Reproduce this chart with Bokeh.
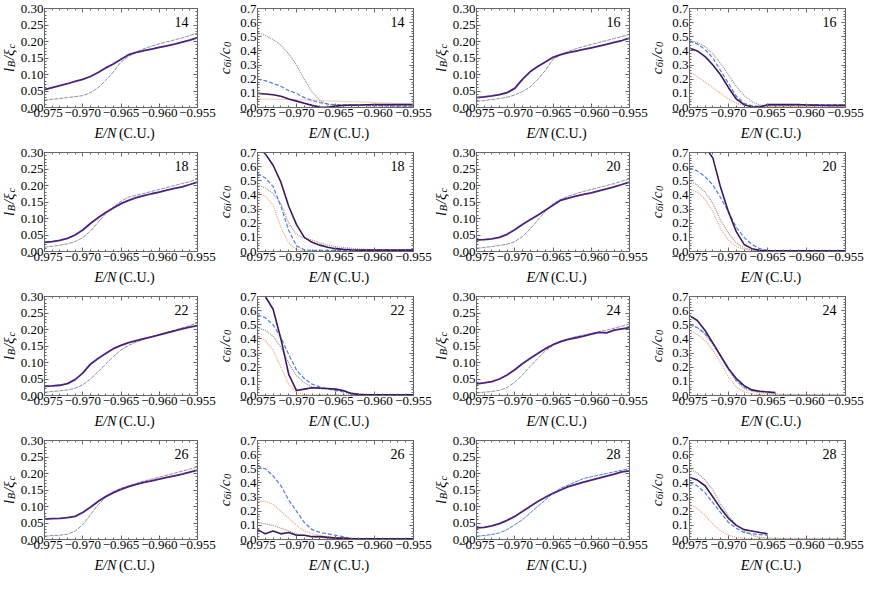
import math
from bokeh.plotting import figure
from bokeh.layouts import row, column
from bokeh.models import Range1d, FixedTicker, LinearAxis, Label, CustomJSTickFormatter
from bokeh.embed import file_html
from bokeh.resources import INLINE

nan = float("nan")

# ---------------- data ----------------
E = [-0.975, -0.974, -0.973, -0.972, -0.971, -0.970, -0.969, -0.968, -0.967, -0.966, -0.965,
     -0.964, -0.963, -0.962, -0.961, -0.960, -0.959, -0.958, -0.957, -0.956, -0.955]

X_TICKS = [-0.975, -0.970, -0.965, -0.960, -0.955]
IB_TICKS = [0.0, 0.05, 0.10, 0.15, 0.20, 0.25, 0.30]
C_TICKS = [0.0, 0.1, 0.2, 0.3, 0.4, 0.5, 0.6, 0.7]
PANEL_N = [14, 16, 18, 20, 22, 24, 26, 28]

# l_B / xi_c panels: solid (purple) and dashed reference
IB14_solid = [.054, .060, .066, .072, .079, .085, .094, .106, .120, .132, .146, .160, .167, .172, .177, .182, .187, .192, .198, .204, .212]
IB14_dash = [.022, .025, .027, .030, .033, .036, .045, .060, .082, .108, .138, .155, .168, .178, .186, .193, .199, .205, .211, .218, .226]
IB16_solid = [.030, .032, .035, .039, .045, .058, .085, .108, .124, .138, .152, .160, .166, .171, .176, .181, .186, .191, .197, .203, .210]
IB16_dash = [.018, .021, .024, .027, .031, .038, .048, .062, .085, .112, .146, .160, .170, .178, .185, .191, .197, .203, .209, .215, .222]
IB18_solid = [.028, .030, .034, .040, .050, .065, .085, .102, .118, .132, .145, .155, .163, .169, .175, .180, .186, .191, .196, .203, .210]
IB18_dash = [.013, .016, .019, .023, .030, .042, .062, .088, .115, .135, .152, .165, .170, .176, .182, .188, .194, .200, .206, .212, .220]
IB20_solid = [.035, .036, .038, .043, .052, .066, .082, .096, .110, .125, .140, .155, .162, .168, .173, .178, .184, .190, .196, .203, .210]
IB20_dash = [.010, .012, .015, .018, .022, .030, .045, .068, .095, .122, .145, .158, .168, .175, .182, .188, .194, .200, .206, .213, .220]
IB22_solid = [.028, .029, .031, .036, .048, .068, .095, .112, .127, .142, .152, .160, .166, .172, .178, .184, .190, .196, .202, .207, .212]
IB22_dash = [.010, .012, .014, .017, .022, .032, .050, .072, .095, .118, .138, .152, .162, .170, .178, .185, .192, .198, .205, .212, .220]
IB24_solid = [.035, .038, .042, .050, .062, .078, .096, .112, .127, .142, .154, .163, .170, .175, .180, .186, .191, .190, .198, .202, .206]
IB24_dash = [.008, .010, .012, .016, .024, .040, .062, .088, .112, .135, .152, .165, .172, .178, .183, .188, .193, .198, .204, .210, .217]
IB26_solid = [.062, .063, .064, .066, .070, .082, .098, .115, .130, .142, .152, .160, .167, .173, .178, .183, .188, .193, .198, .204, .210]
IB26_dash = [.010, .012, .013, .016, .025, .045, .075, .105, .128, .145, .155, .163, .170, .177, .183, .189, .195, .201, .207, .213, .220]
IB28_solid = [.035, .037, .041, .048, .058, .070, .085, .100, .115, .128, .140, .150, .160, .167, .174, .180, .186, .192, .198, .205, .208]
IB28_dash = [.010, .012, .015, .020, .030, .045, .060, .080, .100, .120, .140, .155, .165, .175, .185, .190, .195, .200, .205, .210, .215]

# c_6i / c_0 panels: purple solid, blue dashed, gray dotted, orange dotted
C14_purple = [.10, .095, .09, .08, .06, .045, .03, .015, .003, .002, .01, .015, .017, .018, .019, .020, .020, .020, .020, .020, .020]
C14_blue = [.20, .19, .17, .15, .12, .10, .07, .05, .035, .025, .02, .018, .016, .015, .014, .013, .012, .011, .010, .010, .010]
C14_gray = [.53, .51, .48, .44, .38, .30, .20, .11, .05, .02, .015, .015, .014, .013, .012, .012, .011, .011, .010, .010, .010]
C14_orange = [.06, .059, .058, .057, .056, .055, .053, .051, .049, .047, .045, .043, .041, .040, .038, .035, .033, .031, .029, .027, .025]

C16_purple = [.42, .40, .36, .30, .23, .14, .06, .02, .005, .003, .02, .02, .02, .02, .02, .018, .017, .016, .015, .015, .015]
C16_blue = [.47, .45, .41, .35, .26, .17, .08, .03, .012, .008, .015, .018, .018, .018, .018, .018, .018, .018, .018, .018, .018]
C16_gray = [.475, .46, .43, .38, .31, .23, .15, .085, .04, .018, .012, .012, .012, .012, .012, .012, .012, .012, .012, .012, .012]
C16_orange = [.25, .22, .18, .14, .10, .06, .03, .015, .01, .008, .008, .008, .008, .008, .008, .008, .008, .008, .008, .008, .008]

C18_purple = [.74, .69, .61, .49, .32, .19, .10, .065, .045, .03, .02, .015, .012, .01, .01, .01, .01, .01, .01, .01, .01]
C18_blue = [.55, .52, .46, .32, .15, .04, .012, .008, .008, .008, .008, .008, .008, .008, .008, .008, .008, .008, .008, .008, .008]
C18_gray = [.47, .45, .41, .34, .20, .12, .095, .08, .06, .045, .035, .028, .023, .018, .015, .012, .01, .01, .01, .01, .01]
C18_orange = [.42, .39, .33, .17, .06, .012, .005, .005, .005, .005, .005, .005, .005, .005, .005, .005, .005, .005, .005, .005, .005]

C20_purple = [.85, .80, .74, .66, .45, .28, .14, .05, .02, .008, .005, .005, .005, .005, .005, .005, .005, .005, .005, .005, .005]
C20_blue = [.59, .57, .53, .47, .38, .28, .17, .10, .05, .02, .008, .005, .005, .005, .005, .005, .005, .005, .005, .005, .005]
C20_gray = [.50, .47, .42, .34, .22, .13, .06, .025, .01, .005, .005, .005, .005, .005, .005, .005, .005, .005, .005, .005, .005]
C20_orange = [.44, .42, .37, .28, .16, .08, .035, .015, .008, .005, .005, .005, .005, .005, .005, .005, .005, .005, .005, .005, .005]

C22_purple = [.78, .70, .61, .40, .15, .035, .045, .055, .052, .05, .045, .035, .015, .008, .005, .005, .005, .005, .005, .005, .005]
C22_blue = [.57, .55, .50, .41, .29, .18, .12, .08, .06, .045, .035, .025, .015, .008, .005, .005, .005, .005, .005, .005, .005]
C22_gray = [.48, .46, .42, .34, .23, .14, .09, .06, .05, .045, .04, .03, .015, .008, .005, .005, .005, .005, .005, .005, .005]
C22_orange = [.42, .39, .32, .20, .08, .02, .008, .005, .005, .005, .005, .005, .005, .005, .005, .005, .005, .005, .005, .005, .005]

C24_purple = [.565, .53, .46, .37, .28, .19, .12, .07, .04, .03, .025, .02, nan, nan, nan, nan, nan, nan, nan, nan, nan]
C24_blue = [.50, .48, .44, .37, .28, .19, .11, .06, .035, .03, .028, .02, nan, nan, nan, nan, nan, nan, nan, nan, nan]
C24_gray = [.51, .48, .43, .36, .27, .18, .10, .05, .03, .02, .015, .01, .008, .006, .005, .005, .005, .005, .005, .005, .005]
C24_orange = [.46, .43, .39, .32, .23, .13, .06, .025, .01, .006, .005, .005, .005, .005, .005, .005, .005, .005, .005, .005, .005]

C26_purple = [.07, .04, .06, .04, .05, .03, .03, .02, .02, .015, .01, .01, .005, .005, .005, .005, .005, .005, .005, .005, .005]
C26_blue = [.52, .50, .45, .38, .28, .20, .12, .07, .05, .04, .03, .02, .005, .005, .005, .005, .005, .005, .005, .005, .005]
C26_gray = [.12, .11, .10, .08, .06, .04, .03, .02, .015, .01, .008, .006, .005, .005, .005, .005, .005, .005, .005, .005, .005]
C26_orange = [.27, .27, .25, .20, .15, .10, .06, .04, .03, .02, .015, .01, .008, .006, .005, .005, .005, .005, .005, .005, .005]

C28_purple = [.44, .42, .38, .30, .22, .15, .10, .07, .06, .05, .04, nan, nan, nan, nan, nan, nan, nan, nan, nan, nan]
C28_blue = [.40, .38, .33, .26, .19, .12, .08, .05, .04, .035, .03, nan, nan, nan, nan, nan, nan, nan, nan, nan, nan]
C28_gray = [.50, .47, .42, .35, .25, .17, .10, .06, .03, .015, .01, .008, .006, .005, .005, .005, .005, .005, .005, .005, .005]
C28_orange = [.25, .22, .17, .11, .06, .03, .015, .008, .005, .005, .005, .005, .005, .005, .005, .005, .005, .005, .005, .005, .005]

# ---------------- styles ----------------
FONT = "Liberation Serif"
FRAME = "#666666"
PURPLE_IB = "#4e1f7e"
PURPLE_C = "#3d175f"
BLUE = "#4a7fdc"
GRAY_IB = "#8d8ea3"
GRAY_C = "#a0908a"
ORANGE = "#f3a27f"

# cell geometry (pixels)
YLAB_W = 17
MAIN_W = 199
MAIN_H = 124
XLAB_H = 20
B_LEFT, B_RIGHT, B_TOP, B_BOTTOM = 24, 19, 8, 17
CELL_H = MAIN_H + XLAB_H

X_MINOR = [round(-0.975 + 0.001 * i, 3) for i in range(21)]


def style_axis(ax, show):
    ax.axis_line_color = FRAME
    ax.major_tick_line_color = FRAME
    ax.minor_tick_line_color = FRAME
    ax.major_tick_in = 4
    ax.major_tick_out = 0
    ax.minor_tick_in = 2
    ax.minor_tick_out = 0
    ax.major_label_text_font = FONT
    ax.major_label_text_color = "black"
    if show:
        ax.major_label_text_font_size = "13px"
        ax.major_label_standoff = 1
    else:
        ax.major_label_text_font_size = "1px"
        ax.major_label_standoff = 0


def blank_fig(w, h):
    f = figure(width=w, height=h, x_range=Range1d(0, w), y_range=Range1d(0, h),
               output_backend="svg", toolbar_location=None,
               x_axis_location=None, y_axis_location=None,
               min_border_left=0, min_border_right=0, min_border_top=0, min_border_bottom=0)
    f.grid.visible = False
    f.outline_line_color = None
    f.background_fill_color = "white"
    f.border_fill_color = "white"
    return f


def ylabel_fig(pieces):
    # pieces: (text, size_px, is_sub, advance_px); rotated 90 deg, reading upwards
    f = blank_fig(YLAB_W, CELL_H)
    ymid = CELL_H - (B_TOP + (MAIN_H - B_TOP - B_BOTTOM) / 2.0)
    total = sum(a for _, _, _, a in pieces)
    pos = ymid - total / 2.0
    for txt, size, sub, adv in pieces:
        f.add_layout(Label(x=8.5 + (2.0 if sub else 0), y=pos, text=txt, angle=math.pi / 2,
                           text_align="left", text_baseline="middle",
                           text_font=FONT, text_font_style="italic",
                           text_font_size=f"{size}px", text_color="black"))
        pos += adv
    return f


def xlabel_fig():
    f = blank_fig(MAIN_W, XLAB_H)
    cx = B_LEFT + (MAIN_W - B_LEFT - B_RIGHT) / 2.0
    f.add_layout(Label(x=cx - 8.7, y=XLAB_H - 9, text="E/N", text_align="right",
                       text_baseline="middle", text_font=FONT, text_font_style="italic",
                       text_font_size="14px", text_color="black"))
    f.add_layout(Label(x=cx - 5.2, y=XLAB_H - 9, text="(C.U.)", text_align="left",
                       text_baseline="middle", text_font=FONT,
                       text_font_size="14px", text_color="black"))
    return f


def make_panel(kind, num, series):
    ymax = 0.30 if kind == "IB" else 0.7
    yticks = IB_TICKS if kind == "IB" else C_TICKS
    ystep = 0.01 if kind == "IB" else 0.02
    nmin = int(round(ymax / ystep))
    yminor = [round(ystep * i, 3) for i in range(nmin + 1)]
    p = figure(width=MAIN_W, height=MAIN_H, x_range=Range1d(-0.975, -0.955), y_range=Range1d(0, ymax),
               output_backend="svg", toolbar_location=None,
               x_axis_location=None, y_axis_location=None,
               min_border_left=B_LEFT, min_border_right=B_RIGHT,
               min_border_top=B_TOP, min_border_bottom=B_BOTTOM)
    p.grid.visible = False
    p.outline_line_color = FRAME
    p.background_fill_color = "white"
    p.border_fill_color = "white"

    xt = FixedTicker(ticks=X_TICKS, minor_ticks=X_MINOR)
    yt = FixedTicker(ticks=yticks, minor_ticks=yminor)
    xfmt = CustomJSTickFormatter(code="return tick.toFixed(3).replace('-', '\u2212');")
    yfmt = CustomJSTickFormatter(code="return tick.toFixed(%d);" % (2 if kind == "IB" else 1))
    blank = CustomJSTickFormatter(code="return '';")

    ax = LinearAxis(ticker=xt, formatter=xfmt); style_axis(ax, True); p.add_layout(ax, "below")
    ax = LinearAxis(ticker=xt, formatter=blank); style_axis(ax, False); p.add_layout(ax, "above")
    ay = LinearAxis(ticker=yt, formatter=yfmt); style_axis(ay, True); p.add_layout(ay, "left")
    ay = LinearAxis(ticker=yt, formatter=blank); style_axis(ay, False); p.add_layout(ay, "right")

    for ys, color, dash, lw in series:
        p.line(E, ys, line_color=color, line_dash=dash, line_width=lw)

    p.add_layout(Label(x=-0.955, y=ymax, x_offset=-9, y_offset=-13, text=str(num),
                       text_align="right", text_baseline="middle", text_font=FONT,
                       text_font_size="14px", text_color="black"))

    if kind == "IB":
        yl = ylabel_fig([("l", 15, False, 4.8), ("B", 10.5, True, 7.2),
                         ("/\u03be", 15, False, 11.5), ("c", 10.5, True, 4.7)])
    else:
        yl = ylabel_fig([("c", 15, False, 7.2), ("6i", 10.5, True, 8.8),
                         ("/c", 15, False, 11.4), ("0", 10.5, True, 5.3)])
    return row(yl, column(p, xlabel_fig(), spacing=0), spacing=0)


IB_SETS = [(IB14_solid, IB14_dash), (IB16_solid, IB16_dash), (IB18_solid, IB18_dash),
           (IB20_solid, IB20_dash), (IB22_solid, IB22_dash), (IB24_solid, IB24_dash),
           (IB26_solid, IB26_dash), (IB28_solid, IB28_dash)]
C_SETS = [(C14_purple, C14_blue, C14_gray, C14_orange), (C16_purple, C16_blue, C16_gray, C16_orange),
          (C18_purple, C18_blue, C18_gray, C18_orange), (C20_purple, C20_blue, C20_gray, C20_orange),
          (C22_purple, C22_blue, C22_gray, C22_orange), (C24_purple, C24_blue, C24_gray, C24_orange),
          (C26_purple, C26_blue, C26_gray, C26_orange), (C28_purple, C28_blue, C28_gray, C28_orange)]

cells = []
for i, n in enumerate(PANEL_N):
    solid, dash = IB_SETS[i]
    dash_color = BLUE if n == 28 else GRAY_IB
    cells.append(make_panel("IB", n, [(dash, dash_color, "4 1", 1.0), (solid, PURPLE_IB, "solid", 1.8)]))
    pu, bl, gr, orn = C_SETS[i]
    cells.append(make_panel("C", n, [(orn, ORANGE, "1 1", 1.2), (gr, GRAY_C, "1 1", 1.2),
                                     (bl, BLUE, "4 2", 1.2), (pu, PURPLE_C, "solid", 1.6)]))

rows = [row(*cells[r * 4:(r + 1) * 4], spacing=0) for r in range(4)]
page = column(*rows, spacing=0)

open("out.html", "w").write(file_html(page, INLINE))
